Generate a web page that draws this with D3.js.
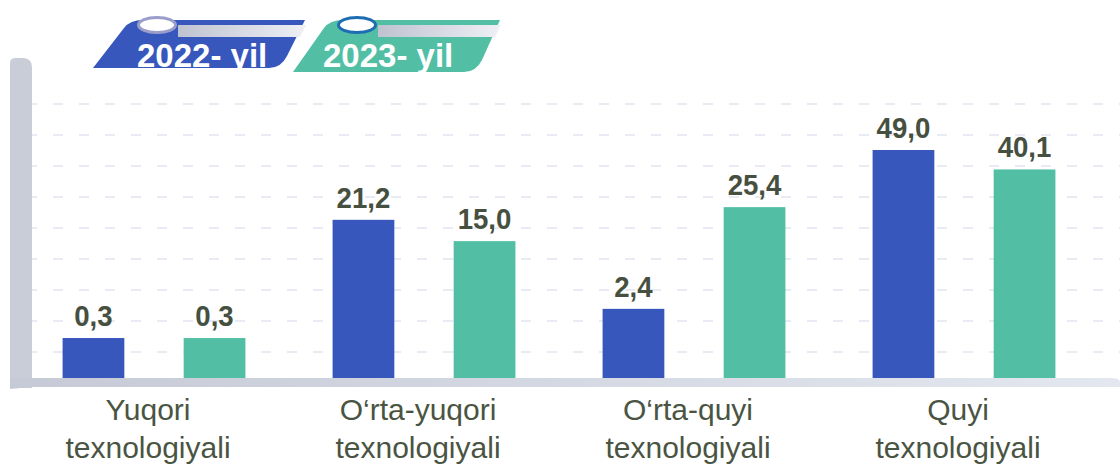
<!DOCTYPE html>
<html>
<head>
<meta charset="utf-8">
<script src="https://cdn.jsdelivr.net/npm/d3@7"></script>
<style>
  body { margin: 0; background: #fff; }
  svg { display: block; font-family: "Liberation Sans", Arial, sans-serif; }
</style>
</head>
<body>
<svg class="chart"></svg>
<script>
const W = 1120;
const H = 465;
const Y0 = 378;  // floor line

// Data
const categories = ["Yuqori texnologiyali", "O\u2018rta-yuqori texnologiyali", "O\u2018rta-quyi texnologiyali", "Quyi texnologiyali"];
const years = ["2022- yil", "2023- yil"];
const values2022 = [0.3, 21.2, 2.4, 49.0];
const values2023 = [0.3, 15.0, 25.4, 40.1];
const colors = ["#3757bd", "#52bfa5"];
const ringColors = ["#9b9dcb", "#1e6db3"];

var rows = categories.map((c, i) => ({cat: c, vals: [values2022[i], values2023[i]]}));

var fmt = d3.formatLocale({decimal: ",", thousands: " ", grouping: [3], currency: ["", ""]}).format(".1f");

var svg = d3.select('.chart')
    .attr("width", W)
    .attr("height", H);

var defs = svg.append("defs");
var fg = defs.append("linearGradient").attr("id", "floorGrad");
fg.append("stop").attr("offset", "0%").attr("stop-color", "#c6cad6");
fg.append("stop").attr("offset", "100%").attr("stop-color", "#e3e7ef");
var sg = defs.append("linearGradient").attr("id", "stripeGrad");
sg.append("stop").attr("offset", "0%").attr("stop-color", "#bfc3d1");
sg.append("stop").attr("offset", "100%").attr("stop-color", "#eef0f5");

// Scales
var x = d3.scaleBand()
    .domain(categories)
    .range([19, 1099]);
var xSub = d3.scaleBand()
    .domain(years)
    .range([0, x.bandwidth()])
    .paddingInner(0.49)
    .paddingOuter(0.36);
// bars in the picture are not proportional, a sqrt scale fits them
var y = d3.scaleSqrt()
    .domain([0, 49])
    .range([Y0 - 24, Y0 - 228]);

// Grid lines
var gridY = d3.scaleLinear().domain([0, 9]).range([Y0 + 5, 104]);
svg.append("g")
    .selectAll("line")
    .data(d3.range(1, 10))
    .join("line")
    .attr("x1", 27).attr("x2", W)
    .attr("y1", d => gridY(d)).attr("y2", d => gridY(d))
    .attr("stroke", "#e1e4f1")
    .attr("stroke-width", 1.6)
    .attr("stroke-dasharray", "10,16");

// Left pillar and floor
svg.append("path")
    .attr("d", "M10,388 V63 Q10,58 16,58 H24 Q32,59 32,67 V388 Z")
    .attr("fill", "#c9cdd8");
svg.append("path")
    .attr("d", "M10," + Y0 + " H1110 Q1120," + Y0 + " 1120," + (Y0 + 4) + " V" + (Y0 + 9) + " H32 L10," + (Y0 + 11) + " Z")
    .attr("fill", "url(#floorGrad)");

// Bars
var groups = svg.append("g")
    .selectAll("g")
    .data(rows)
    .join("g")
    .attr("transform", d => "translate(" + x(d.cat) + ",0)");

groups.selectAll("rect")
    .data(d => d.vals.map((v, j) => ({year: years[j], v: v, j: j})))
    .join("rect")
    .attr("x", d => xSub(d.year))
    .attr("y", d => y(d.v))
    .attr("width", xSub.bandwidth())
    .attr("height", d => Y0 - y(d.v))
    .attr("fill", d => colors[d.j]);

groups.selectAll("text.val")
    .data(d => d.vals.map((v, j) => ({year: years[j], v: v})))
    .join("text")
    .attr("class", "val")
    .attr("x", d => xSub(d.year) + xSub.bandwidth() / 2)
    .attr("y", d => y(d.v) - 12)
    .attr("text-anchor", "middle")
    .style("font-size", "30px")
    .style("font-weight", "bold")
    .attr("fill", "#465040")
    .text(d => fmt(d.v))
    .each(function() {
      // squeeze a little, the original font is narrower
      this.setAttribute("textLength", this.getComputedTextLength() * 0.92);
      this.setAttribute("lengthAdjust", "spacingAndGlyphs");
    });

// Category labels
var labels = svg.append("g")
    .selectAll("text")
    .data(categories)
    .join("text")
    .attr("text-anchor", "middle")
    .style("font-size", "30px")
    .attr("fill", "#4a5443");
labels.selectAll("tspan")
    .data(d => d.split(" ").map(s => ({s: s, c: d})))
    .join("tspan")
    .attr("x", d => x(d.c) + x.bandwidth() / 2 - 6)
    .attr("y", (d, i) => 420 + i * 38)
    .text(d => d.s);

// Legend tabs
var tabs = [
  {x: 93, bottom: 68, right: 305},
  {x: 293, bottom: 72, right: 500}
];
var legend = svg.append("g")
    .selectAll("g")
    .data(years)
    .join("g");

legend.append("path")
    .attr("d", (d, i) => {
      let t = tabs[i], b = t.bottom;
      return "M" + t.x + "," + b +
        " L" + (t.x + 31) + ",28 Q" + (t.x + 37) + ",20 " + (t.x + 50) + ",20" +
        " H" + t.right +
        " L" + (t.right - 18) + "," + (b - 12) +
        " Q" + (t.right - 24) + "," + b + " " + (t.right - 36) + "," + b + " Z";
    })
    .attr("fill", (d, i) => colors[i]);

legend.append("path")
    .attr("d", (d, i) => {
      let t = tabs[i];
      return "M" + (t.x + 85) + ",25 H" + (t.right + 1) + " L" + (t.right - 5) + ",37 H" + (t.x + 85) + " Z";
    })
    .attr("fill", "url(#stripeGrad)");

legend.append("ellipse")
    .attr("cx", (d, i) => tabs[i].x + 64)
    .attr("cy", 25)
    .attr("rx", 18.5)
    .attr("ry", 7.5)
    .attr("fill", "#fff")
    .attr("stroke", (d, i) => ringColors[i])
    .attr("stroke-width", 3);

legend.append("text")
    .attr("x", (d, i) => tabs[i].x + 44 - i * 14)
    .attr("y", 67)
    .attr("fill", "#fff")
    .style("font-size", "33px")
    .style("font-weight", "bold")
    .text(d => d);
</script>
</body>
</html>
